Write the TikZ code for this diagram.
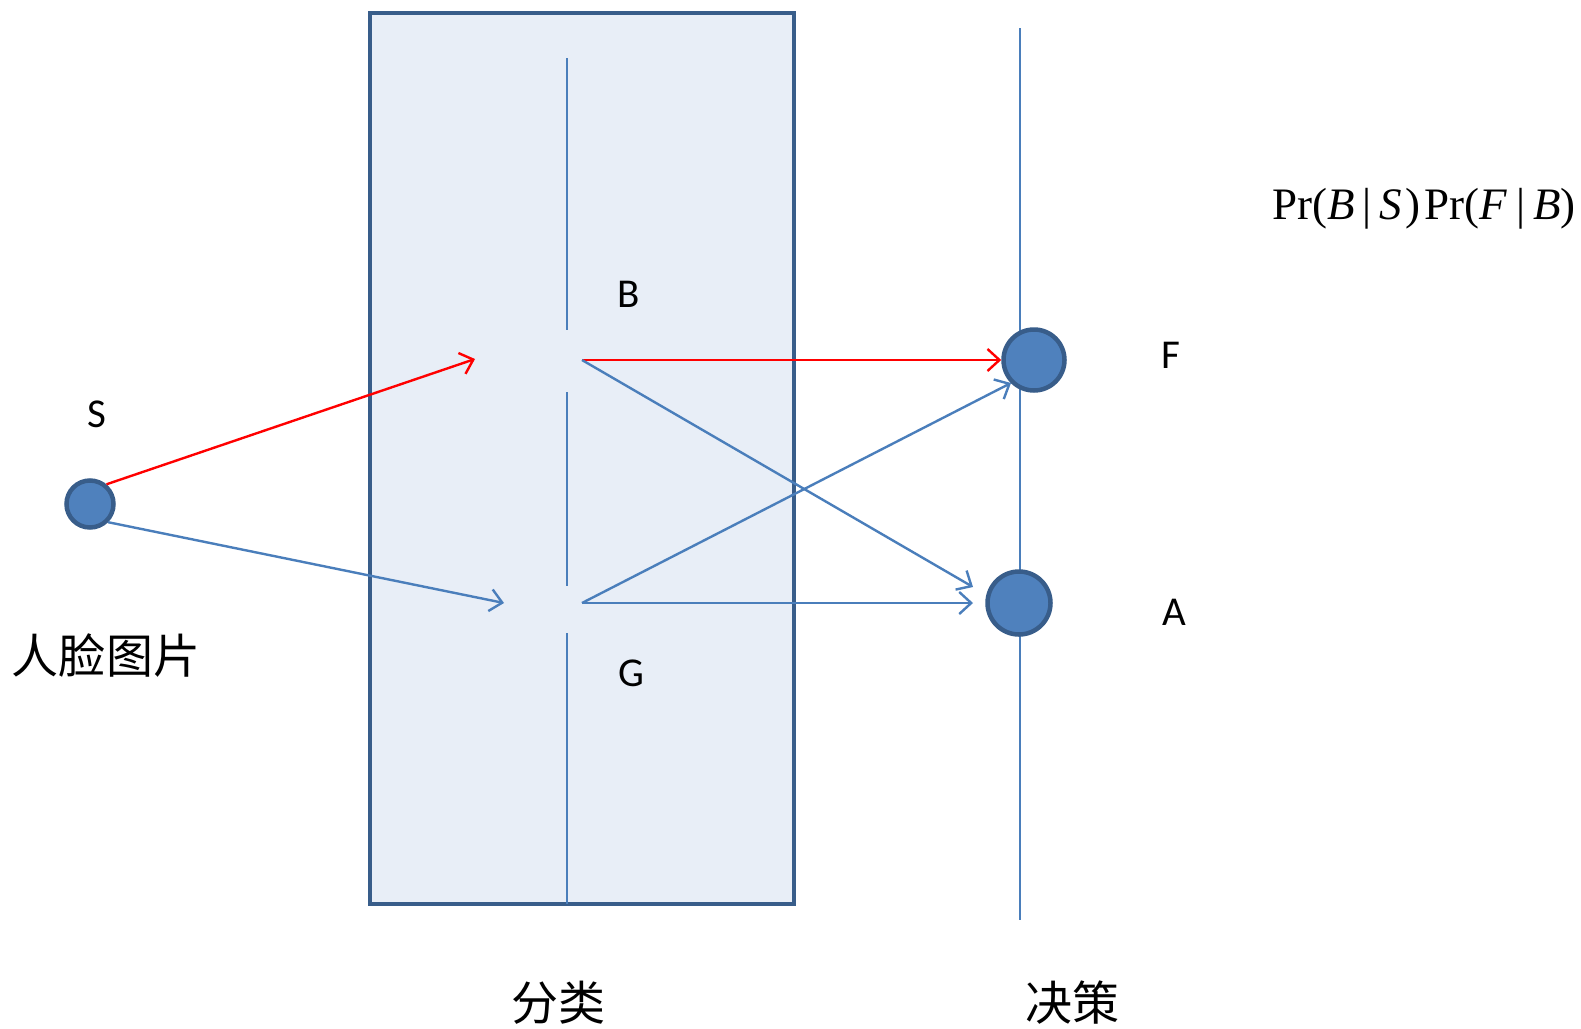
\documentclass[tikz,border=0pt]{standalone}
\usepackage{fontspec}
\setmainfont{Carlito}
\newfontfamily\cjk{Noto Sans CJK SC}
\newfontfamily\timesf{Liberation Serif}
\usetikzlibrary{arrows.meta}
\definecolor{lineblue}{HTML}{4A7EBB}
\definecolor{boxfill}{HTML}{E8EEF7}
\definecolor{boxedge}{HTML}{385D8A}
\definecolor{dotfill}{HTML}{4F81BD}
\tikzset{
  dot/.style={circle, fill=dotfill, draw=boxedge, line width=4.5pt, inner sep=0pt},
  conn/.style={line width=2.4pt, -{Straight Barb[length=12pt,width=22pt,line width=2.4pt]}},
  bluec/.style={conn, draw=lineblue},
  redc/.style={conn, draw=red},
  vline/.style={draw=lineblue, line width=2.4pt},
  lbl/.style={font=\fontsize{41}{45}\selectfont, inner sep=0pt},
  cjklbl/.style={font=\cjk\fontsize{47}{50}\selectfont, inner sep=0pt},
}
\begin{document}
\begin{tikzpicture}[x=1pt,y=-1pt]
\useasboundingbox (0,0) rectangle (1581,1028);
% box
\draw[fill=boxfill, draw=boxedge, line width=4.5pt] (370,13) rectangle (794,904);
% inner split line
\draw[vline] (567,58) -- (567,330);
\draw[vline] (567,392) -- (567,586);
\draw[vline] (567,633) -- (567,904);
% decision line
\draw[vline] (1020,28) -- (1020,920);
% nodes
\node[dot, minimum size=47pt] (S) at (90,504) {};
\node[dot, minimum size=61pt] (F) at (1034,360) {};
\node[dot, minimum size=63pt] (A) at (1019,603) {};
\coordinate (Bin) at (475,359);
\coordinate (Gin) at (504,603);
\coordinate (B) at (582,360);
\coordinate (G) at (582,603);
\coordinate (Fend) at (1011,383);
\coordinate (Aend1) at (973,587);
\coordinate (Aend2) at (973,603);
% connectors
\draw[redc] (S.50) -- (Bin);
\draw[bluec] (S.-45) -- (Gin);
\draw[redc] (B) -- (F);
\draw[bluec] (B) -- (Aend1);
\draw[bluec] (G) -- (Fend);
\draw[bluec] (G) -- (Aend2);
% labels
\node[lbl] (lS) at (97,414) {S};
\node[lbl] (lB) at (629,294) {B};
\node[lbl] (lG) at (631,673) {G};
\node[lbl] (lF) at (1171,355) {F};
\node[lbl] (lA) at (1174,612) {A};
\node[cjklbl] (lface) at (106,656) {人脸图片};
\node[cjklbl] (lcls) at (558,1003) {分类};
\node[cjklbl] (ldec) at (1072,1003) {决策};
\node[font=\timesf\fontsize{45}{49}\selectfont, inner sep=0pt] (formula) at (1424,209)
  {Pr(\textit{B}\kern8pt|\kern8pt\textit{S}\kern3pt)\kern4pt Pr(\textit{F}\kern9pt|\kern8pt\textit{B})};
\end{tikzpicture}
\end{document}
